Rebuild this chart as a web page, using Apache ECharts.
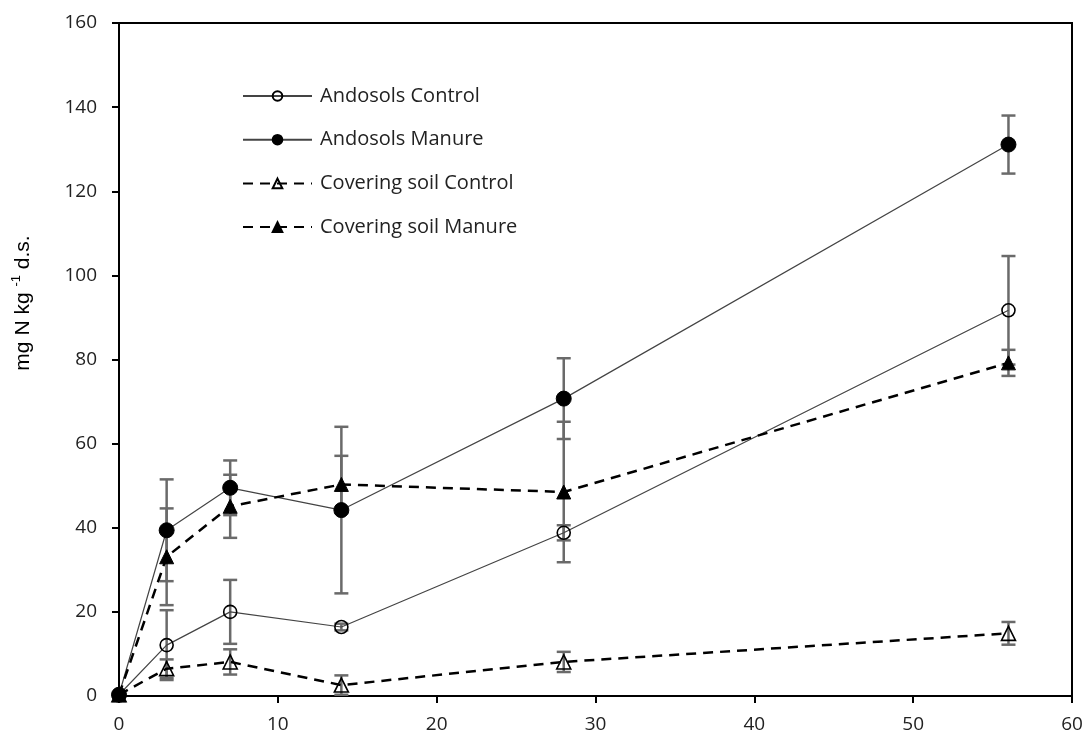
<!DOCTYPE html>
<html>
<head>
<meta charset="utf-8">
<script src="https://cdn.jsdelivr.net/npm/echarts@6/dist/echarts.min.js"></script>
<style>html,body{margin:0;padding:0;background:#fff}#c{width:1088px;height:738px}</style>
</head>
<body>
<div id="c"></div>
<script>
var days = [0, 3, 7, 14, 28, 56];
var andosolsControl = [0.3, 12.1, 20.0, 16.4, 38.8, 91.7];
var andosolsControlErr = [0, 8.3, 7.6, 0.8, 1.8, 12.9];
var andosolsManure = [0.3, 39.4, 49.5, 44.2, 70.7, 131.1];
var andosolsManureErr = [0, 12.1, 6.5, 19.8, 9.6, 6.9];
var coveringControl = [0.3, 6.5, 8.1, 2.6, 8.1, 14.9];
var coveringControlErr = [0, 2.2, 3.0, 2.3, 2.4, 2.7];
var coveringManure = [0.3, 33.1, 45.1, 50.3, 48.5, 79.2];
var coveringManureErr = [0, 11.5, 7.5, 6.8, 16.7, 3.1];
var seriesNames = ['Andosols Control', 'Andosols Manure', 'Covering soil Control', 'Covering soil Manure'];
var xTicks = [0, 10, 20, 30, 40, 50, 60];
var yTicks = [0, 20, 40, 60, 80, 100, 120, 140, 160];

function pts(vals) { return days.map(function (d, i) { return [d, vals[i]]; }); }
function errPts(vals, errs) { return days.map(function (d, i) { return [d, vals[i], errs[i]]; }); }

function errSeries(vals, errs) {
  return {
    type: 'custom',
    z: 1,
    silent: true,
    data: errPts(vals, errs),
    renderItem: function (params, api) {
      var x = api.value(0), y = api.value(1), e = api.value(2);
      if (!e) return null;
      var top = api.coord([x, y + e]);
      var bot = api.coord([x, y - e]);
      var hw = 7;
      var st = { stroke: '#6a6a6a', lineWidth: 2.5 };
      return {
        type: 'group',
        children: [
          { type: 'line', shape: { x1: top[0], y1: top[1], x2: bot[0], y2: bot[1] }, style: st },
          { type: 'line', shape: { x1: top[0] - hw, y1: top[1], x2: top[0] + hw, y2: top[1] }, style: st },
          { type: 'line', shape: { x1: bot[0] - hw, y1: bot[1], x2: bot[0] + hw, y2: bot[1] }, style: st }
        ]
      };
    }
  };
}

function lineSeries(name, vals, symbol, filled, dashed) {
  return {
    name: name,
    type: 'line',
    z: 3,
    data: pts(vals),
    symbol: symbol,
    symbolSize: symbol === 'circle' ? (filled ? 15 : 13) : 14,
    showSymbol: true,
    animation: false,
    lineStyle: dashed ? { color: '#000', width: 2.5, type: [10, 7] } : { color: '#444', width: 1.2, type: 'solid' },
    itemStyle: filled ? { color: '#000', borderColor: '#000', borderWidth: 1 } : { color: 'rgba(255,255,255,0)', borderColor: '#000', borderWidth: 1.6 }
  };
}

var chart = echarts.init(document.getElementById('c'), null, { renderer: 'canvas' });
chart.setOption({
  animation: false,
  backgroundColor: '#fff',
  grid: { left: 119, right: 16, top: 23, bottom: 42, show: true, borderColor: '#000', borderWidth: 2, containLabel: false },
  legend: {
    orient: 'vertical',
    left: 237,
    top: 81,
    itemWidth: 69,
    itemHeight: 12,
    itemGap: 23.7,
    data: seriesNames,
    textStyle: { fontFamily: 'Open Sans', fontSize: 20, color: '#222', padding: [0, 0, 0, 3] }
  },
  xAxis: {
    type: 'value', min: 0, max: 60, interval: 10,
    axisLine: { show: true, lineStyle: { color: '#000', width: 2 } },
    axisTick: { show: true, inside: false, length: 7, lineStyle: { color: '#000', width: 2 } },
    splitLine: { show: false },
    axisLabel: { margin: 19, fontFamily: 'Open Sans', fontSize: 19, color: '#222',
      formatter: function (v) { return xTicks.indexOf(v) >= 0 ? String(v) : ''; } }
  },
  yAxis: {
    type: 'value', min: 0, max: 160, interval: 20,
    axisLine: { show: true, lineStyle: { color: '#000', width: 2 } },
    axisTick: { show: true, inside: false, length: 7, lineStyle: { color: '#000', width: 2 } },
    splitLine: { show: false },
    axisLabel: { margin: 22, fontFamily: 'Open Sans', fontSize: 19, color: '#222',
      formatter: function (v) { return yTicks.indexOf(v) >= 0 ? String(v) : ''; } }
  },
  graphic: [{
    type: 'text',
    x: 22,
    y: 303,
    rotation: Math.PI / 2,
    style: {
      text: '{a|mg N kg }{s|-1}{a| d.s.}',
      align: 'center',
      verticalAlign: 'middle',
      fill: '#000',
      rich: {
        a: { fontFamily: 'Liberation Sans', fontSize: 21, fill: '#000', verticalAlign: 'bottom' },
        s: { fontFamily: 'Liberation Sans', fontSize: 13, fill: '#000', verticalAlign: 'top', padding: [0, 0, 11, 0] }
      }
    }
  }],
  series: [
    errSeries(andosolsManure, andosolsManureErr),
    errSeries(andosolsControl, andosolsControlErr),
    errSeries(coveringManure, coveringManureErr),
    errSeries(coveringControl, coveringControlErr),
    lineSeries(seriesNames[0], andosolsControl, 'circle', false, false),
    lineSeries(seriesNames[1], andosolsManure, 'circle', true, false),
    lineSeries(seriesNames[2], coveringControl, 'triangle', false, true),
    lineSeries(seriesNames[3], coveringManure, 'triangle', true, true)
  ]
});
</script>
</body>
</html>
